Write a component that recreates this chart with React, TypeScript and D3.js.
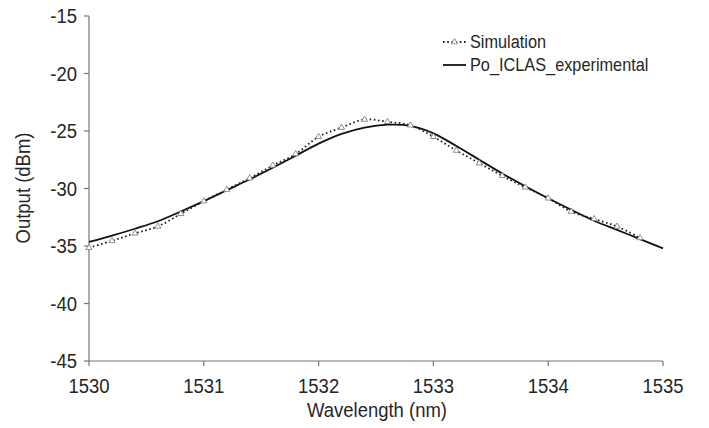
import React from 'react';
import * as d3 from 'd3';

// wavelength (nm) sample points
const simWavelength = [1530.0, 1530.2, 1530.4, 1530.6, 1530.8, 1531.0, 1531.2, 1531.4, 1531.6, 1531.8,
  1532.0, 1532.2, 1532.4, 1532.6, 1532.8, 1533.0, 1533.2, 1533.4, 1533.6, 1533.8,
  1534.0, 1534.2, 1534.4, 1534.6, 1534.8];
const simOutput = [-35.15, -34.55, -33.9, -33.3, -32.2, -31.1, -30.1, -29.1, -28.0, -27.0,
  -25.5, -24.7, -24.0, -24.2, -24.5, -25.5, -26.7, -27.8, -28.9, -29.9,
  -30.85, -32.0, -32.65, -33.3, -34.3];

const expWavelength = [1530.0, 1530.2, 1530.4, 1530.6, 1530.8, 1531.0, 1531.2, 1531.4, 1531.6, 1531.8,
  1532.0, 1532.2, 1532.4, 1532.6, 1532.8, 1533.0, 1533.2, 1533.4, 1533.6, 1533.8,
  1534.0, 1534.2, 1534.4, 1534.6, 1534.8, 1535.0];
const expOutput = [-34.65, -34.1, -33.5, -32.85, -32.0, -31.1, -30.15, -29.2, -28.2, -27.15,
  -26.1, -25.25, -24.7, -24.45, -24.55, -25.2, -26.3, -27.5, -28.7, -29.8,
  -30.85, -31.85, -32.8, -33.6, -34.4, -35.2];

const xTicks = [1530, 1531, 1532, 1533, 1534, 1535];
const yTicks = [-15, -20, -25, -30, -35, -40, -45];
const legendLabels = ['Simulation', 'Po_ICLAS_experimental'];

const W = 709;
const H = 428;
const FONT = '"Liberation Sans", Arial, sans-serif';
const STRETCH = 1.12; // glyphs in the picture are a bit taller than wide

function Label(props: { x: number; y: number; size: number; anchor?: string; rotate?: number; children: React.ReactNode }) {
  const rot = props.rotate ? ` rotate(${props.rotate})` : '';
  return (
    <text transform={`translate(${props.x},${props.y})${rot} scale(1,${STRETCH})`}
      textAnchor={props.anchor || 'start'} fontSize={props.size} fill="#262626">
      {props.children}
    </text>
  );
}

export default function App() {
  const x = d3.scaleLinear().domain([1530, 1535]).range([89, 663]);
  const y = d3.scaleLinear().domain([-45, -15]).range([361, 16]);

  const sim = simWavelength.map((w, i) => [w, simOutput[i]] as [number, number]);
  const exp = expWavelength.map((w, i) => [w, expOutput[i]] as [number, number]);

  const line = d3.line<[number, number]>()
    .x(d => x(d[0]))
    .y(d => y(d[1]))
    .curve(d3.curveCatmullRom);

  const tri = d3.symbol().type(d3.symbolTriangle).size(16)();

  const axisColor = '#777';

  return (
    <svg width={W} height={H} style={{ position: 'absolute', left: 0, top: 0, background: '#fff' }}
      fontFamily={FONT}>
      {/* y axis */}
      <line x1={89} x2={89} y1={y(-15)} y2={y(-45)} stroke={axisColor} strokeWidth={1.2} />
      {yTicks.map(t => (
        <g key={'y' + t}>
          <line x1={84} x2={89} y1={y(t)} y2={y(t)} stroke={axisColor} strokeWidth={1.2} />
          <Label x={77} y={y(t) + 7.3} size={18.5} anchor="end">{t}</Label>
        </g>
      ))}
      {/* x axis */}
      <line x1={x(1530)} x2={x(1535)} y1={361} y2={361} stroke={axisColor} strokeWidth={1.2} />
      {xTicks.map(t => (
        <g key={'x' + t}>
          <line x1={x(t)} x2={x(t)} y1={361} y2={366} stroke={axisColor} strokeWidth={1.2} />
          <Label x={x(t)} y={392.5} size={18.5} anchor="middle">{t}</Label>
        </g>
      ))}
      <Label x={377} y={417} size={18.5} anchor="middle">Wavelength (nm)</Label>
      <Label x={30} y={188} size={18.5} anchor="middle" rotate={-90}>Output (dBm)</Label>

      {/* experimental */}
      <path d={line(exp) || ''} fill="none" stroke="#111" strokeWidth={1.8} />
      {/* simulation */}
      <path d={line(sim) || ''} fill="none" stroke="#222" strokeWidth={1.8} strokeDasharray="1.6 2.6" />
      {sim.map((d, i) => (
        <path key={'m' + i} d={tri || ''} transform={`translate(${x(d[0])},${y(d[1])})`}
          fill="#fff" stroke="#777" strokeWidth={0.8} />
      ))}

      {/* legend */}
      <line x1={443} x2={466} y1={42} y2={42} stroke="#222" strokeWidth={1.8} strokeDasharray="1.6 2.6" />
      <path d={tri || ''} transform="translate(454.5,42)" fill="#fff" stroke="#777" strokeWidth={0.8} />
      <Label x={470} y={48} size={16.3}>{legendLabels[0]}</Label>
      <line x1={443} x2={466} y1={65} y2={65} stroke="#111" strokeWidth={1.8} />
      <Label x={470} y={71} size={16.3}>{legendLabels[1]}</Label>
    </svg>
  );
}
